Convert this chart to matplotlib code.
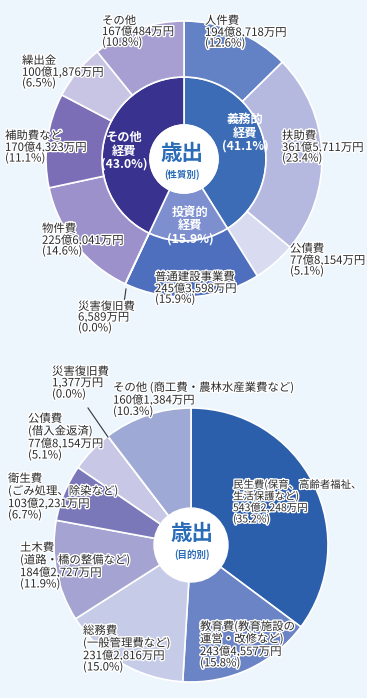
import matplotlib
matplotlib.use("Agg")
import matplotlib.pyplot as plt
import matplotlib.patheffects as pe

plt.rcParams['font.family'] = ['Noto Sans CJK JP', 'DejaVu Sans']

# 性質別 (outer ring), amounts in 万円
kind_names = ["人件費", "扶助費", "公債費", "普通建設事業費", "災害復旧費",
              "物件費", "補助費など", "繰出金", "その他"]
kind_amounts = [1948718, 3615711, 778154, 2453598, 6589,
                2256041, 1704323, 1001876, 1670484]
kind_pct = [12.6, 23.4, 5.1, 15.9, 0.0, 14.6, 11.1, 6.5, 10.8]
kind_colors = ["#6282c5", "#b5b9e0", "#d9dcf0", "#4e6ebe", "#8a84c4",
               "#9c91cb", "#7b6eb7", "#c8c4e4", "#a79fd1"]

# 性質別 (inner ring)
group_names = ["義務的\n経費", "投資的\n経費", "その他\n経費"]
group_pct = [41.1, 15.9, 43.0]
group_colors = ["#3d6cb7", "#7e8fd0", "#39328f"]

# 目的別
purpose_names = ["民生費(保育、高齢者福祉、\n生活保護など)", "教育費(教育施設の\n運営・改修など)",
                 "総務費\n(一般管理費など)", "土木費\n(道路・橋の整備など)",
                 "衛生費\n(ごみ処理、除染など)", "公債費\n(借入金返済)", "災害復旧費",
                 "その他 (商工費・農林水産業費など)"]
purpose_amounts = [5432248, 2434557, 2312816, 1842727, 1032231, 778154, 1377, 1601384]
purpose_pct = [35.2, 15.8, 15.0, 11.9, 6.7, 5.1, 0.0, 10.3]
purpose_colors = ["#2b5fac", "#6a84c6", "#c6cce8", "#a4a3d2", "#7b78ba",
                  "#c8c8e6", "#9aa6d6", "#9ea9d6"]

W, H = 367, 698
bg = "#eef6fd"
txt = "#2b2b2b"
blue = "#2a6cb8"


def Y(y):
    return H - y


def money(v):
    oku, man = divmod(v, 10000)
    if oku:
        return f"{oku}億{man:,}万円"
    return f"{man:,}万円"


fig = plt.figure(figsize=(W / 100, H / 100), dpi=100, facecolor=bg)
ax = fig.add_axes([0, 0, 1, 1])
ax.set_facecolor(bg)

halo = [pe.withStroke(linewidth=2, foreground="white")]

# ---- top chart ----
c1 = (184, Y(159))
ax.pie(group_pct, colors=group_colors, startangle=90, counterclock=False,
       center=c1, radius=82, frame=True,
       wedgeprops=dict(width=48, edgecolor="white", linewidth=1.2))
ax.pie(kind_amounts, colors=kind_colors, startangle=90, counterclock=False,
       center=c1, radius=138, frame=True,
       wedgeprops=dict(width=56, edgecolor="white", linewidth=1.2))
ax.add_patch(plt.Circle(c1, 34, color="white", zorder=3))

kind_pos = [(205, 15), (282, 130), (290, 243), (155, 271), (78, 301),
            (42, 223), (5, 130), (22, 55), (102, 15)]
for name, amt, p, (x, y) in zip(kind_names, kind_amounts, kind_pct, kind_pos):
    ax.text(x, Y(y), f"{name}\n{money(amt)}\n({p:.1f}%)", ha="left", va="top",
            fontsize=8.2, color=txt, linespacing=0.98, path_effects=halo, zorder=5)

group_pos = [(245, 133), (190, 226), (124, 151)]
for name, p, (x, y) in zip(group_names, group_pct, group_pos):
    ax.text(x, Y(y), f"{name}\n({p:.1f}%)", ha="center", va="center",
            fontsize=8.8, color="white", fontweight="bold", linespacing=1.05, zorder=5)

ax.plot([126, 124], [Y(289), Y(303)], color="#333333", lw=0.8, zorder=4)

ax.text(182, Y(153), "歳出", ha="center", va="center", fontsize=15.5,
        color=blue, fontweight="bold", zorder=5)
ax.text(182, Y(175), "(性質別)", ha="center", va="center", fontsize=6.8,
        color=blue, fontweight="bold", zorder=5)

# ---- bottom chart ----
c2 = (191, Y(545))
ax.pie(purpose_amounts, colors=purpose_colors, startangle=90, counterclock=False,
       center=c2, radius=137, frame=True,
       wedgeprops=dict(edgecolor="white", linewidth=1.2))
ax.add_patch(plt.Circle(c2, 37, color="white", zorder=3))

purpose_pos = [(233, 479), (200, 620), (83, 625), (20, 542), (8, 473),
               (28, 413), (52, 366), (113, 381)]
purpose_fs = [7.5, 8.2, 8.2, 8.2, 8.2, 8.2, 8.2, 8.2]
for name, amt, p, (x, y), fs in zip(purpose_names, purpose_amounts, purpose_pct,
                                     purpose_pos, purpose_fs):
    ax.text(x, Y(y), f"{name}\n{money(amt)}\n({p:.1f}%)", ha="left", va="top",
            fontsize=fs, color=txt, linespacing=1.05, path_effects=halo, zorder=5)

ax.plot([88, 108], [Y(408), Y(437)], color="#333333", lw=0.8, zorder=4)

ax.text(192, Y(533), "歳出", ha="center", va="center", fontsize=15.5,
        color=blue, fontweight="bold", zorder=5)
ax.text(192, Y(555), "(目的別)", ha="center", va="center", fontsize=6.8,
        color=blue, fontweight="bold", zorder=5)

ax.set_xlim(0, W)
ax.set_ylim(0, H)
ax.set_aspect("auto")
ax.axis("off")

fig.savefig("out.png", dpi=100, facecolor=bg)
